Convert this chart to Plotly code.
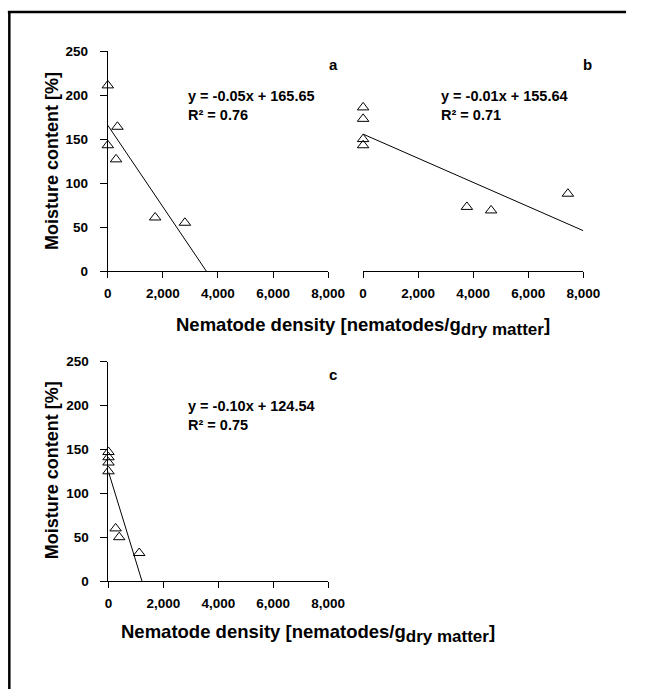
#!/usr/bin/env python3
"""
Moisture content vs nematode density, three panels (a, b, c)
"""

import plotly.graph_objects as go

# Panel data
a_density = [0, 350, 0, 300, 1720, 2800]
a_moisture = [211, 164, 143, 127, 61, 55]
a_fit_x = [0, 3580]
a_fit_y = [165.65, 0]

b_density = [0, 0, 0, 0, 3770, 4650, 7440]
b_moisture = [186, 173, 150, 143, 73, 69, 88]
b_fit_x = [0, 8000]
b_fit_y = [155.64, 46]

c_density = [0, 0, 0, 0, 260, 390, 1120]
c_moisture = [147, 141, 135, 125, 60, 50, 32]
c_fit_x = [0, 1220]
c_fit_y = [124.54, 0]

x_ticks = [0, 2000, 4000, 6000, 8000]
y_ticks = [0, 50, 100, 150, 200, 250]

equations = {
    'a': "y = -0.05x + 165.65<br>R² = 0.76",
    'b': "y = -0.01x + 155.64<br>R² = 0.71",
    'c': "y = -0.10x + 124.54<br>R² = 0.75",
}

# reference canvas size, used to turn pixel positions into paper fractions
W, H = 645, 699
FONT = "Liberation Sans, Arial, sans-serif"


def px(x):
    return x / W


def py(y):
    return 1 - y / H


fig = go.Figure()

panels = [
    ('x', 'y', a_density, a_moisture, a_fit_x, a_fit_y),
    ('x2', 'y2', b_density, b_moisture, b_fit_x, b_fit_y),
    ('x3', 'y3', c_density, c_moisture, c_fit_x, c_fit_y),
]

for xa, ya, xs, ys, fx, fy in panels:
    fig.add_trace(go.Scatter(
        x=fx, y=fy, mode='lines', xaxis=xa, yaxis=ya,
        line=dict(color='black', width=1),
        showlegend=False, cliponaxis=False,
    ))
    fig.add_trace(go.Scatter(
        x=xs, y=ys, mode='markers', xaxis=xa, yaxis=ya,
        marker=dict(symbol='triangle-up-open', size=10, color='black',
                    line=dict(width=1, color='black')),
        showlegend=False, cliponaxis=False,
    ))

tickfont = dict(family=FONT, size=13.5, color='black', weight='bold')

xcommon = dict(range=[0, 8000], tickvals=x_ticks, tickformat=',d',
               showline=True, linecolor='black', linewidth=1,
               ticks='outside', ticklen=6, tickcolor='black',
               showgrid=False, zeroline=False, tickfont=tickfont,
               ticklabelstandoff=4)
ycommon = dict(range=[0, 250], tickvals=y_ticks,
               showline=True, linecolor='black', linewidth=1,
               ticks='outside', ticklen=7, tickcolor='black',
               showgrid=False, zeroline=False, tickfont=tickfont,
               ticklabelstandoff=9)

fig.update_layout(
    xaxis=dict(domain=[px(107.3), px(335)], anchor='y', **xcommon),
    yaxis=dict(domain=[py(270), py(45)], anchor='x', **ycommon),
    xaxis2=dict(domain=[px(371.2), px(598.8)], anchor='y2', **xcommon),
    yaxis2=dict(domain=[py(270), py(45)], anchor='x2', range=[0, 250],
                visible=False),
    xaxis3=dict(domain=[px(108), px(335)], anchor='y3', **xcommon),
    yaxis3=dict(domain=[py(586.7), py(362.3)], anchor='x3', **ycommon),
)

annots = []

# panel letters
for letter, x, y in [('a', 340.7, 58.3), ('b', 602.7, 58.3), ('c', 340, 376)]:
    annots.append(dict(text=letter, x=px(x), y=py(y), xref='paper', yref='paper',
                       showarrow=False, xanchor='center', yanchor='middle',
                       font=dict(family=FONT, size=15, color='black', weight='bold')))

# regression equations
for key, x, y in [('a', 188.3, 101), ('b', 450, 101), ('c', 188.3, 417)]:
    annots.append(dict(text=equations[key], x=px(x), y=py(y), xref='paper', yref='paper',
                       showarrow=False, xanchor='left', yanchor='middle', align='left',
                       font=dict(family=FONT, size=14.5, color='black', weight='bold')))

# axis titles
xtitle = ('Nematode density [nematodes/g<sub><span style="font-size:17px">'
          'dry matter</span></sub>]')
for x, y in [(176, 326), (119, 640)]:
    annots.append(dict(text=xtitle, x=px(x), y=py(y), xref='paper', yref='paper',
                       showarrow=False, xanchor='left', yanchor='middle',
                       font=dict(family=FONT, size=18.5, color='black', weight='bold')))
for y in [157, 473]:
    annots.append(dict(text='Moisture content [%]', x=px(49), y=py(y),
                       xref='paper', yref='paper', showarrow=False, textangle=-90,
                       xanchor='center', yanchor='middle',
                       font=dict(family=FONT, size=18, color='black', weight='bold')))

fig.update_layout(
    annotations=annots,
    shapes=[
        dict(type='line', xref='paper', yref='paper', x0=px(4), x1=px(643),
             y0=py(5), y1=py(5), line=dict(color='black', width=2.5)),
        dict(type='line', xref='paper', yref='paper', x0=px(5.5), x1=px(5.5),
             y0=py(4), y1=py(697), line=dict(color='black', width=2.5)),
    ],
    autosize=True,
    margin=dict(l=0, r=0, t=0, b=0),
    paper_bgcolor='white',
    plot_bgcolor='white',
    showlegend=False,
)

# let the figure fill the whole window, with no page margin or scrollbars
fit = """
document.documentElement.style.margin = '0';
document.body.style.margin = '0';
document.documentElement.style.overflow = 'hidden';
document.body.style.overflow = 'hidden';
var gd = document.getElementById('{plot_id}');
gd.style.position = 'fixed';
gd.style.left = '0px';
gd.style.top = '0px';
Plotly.Plots.resize(gd);
"""
fig.write_html("out.html", config={'displayModeBar': False, 'responsive': True},
               default_width='100vw', default_height='100vh', post_script=fit)
print("saved out.html")
